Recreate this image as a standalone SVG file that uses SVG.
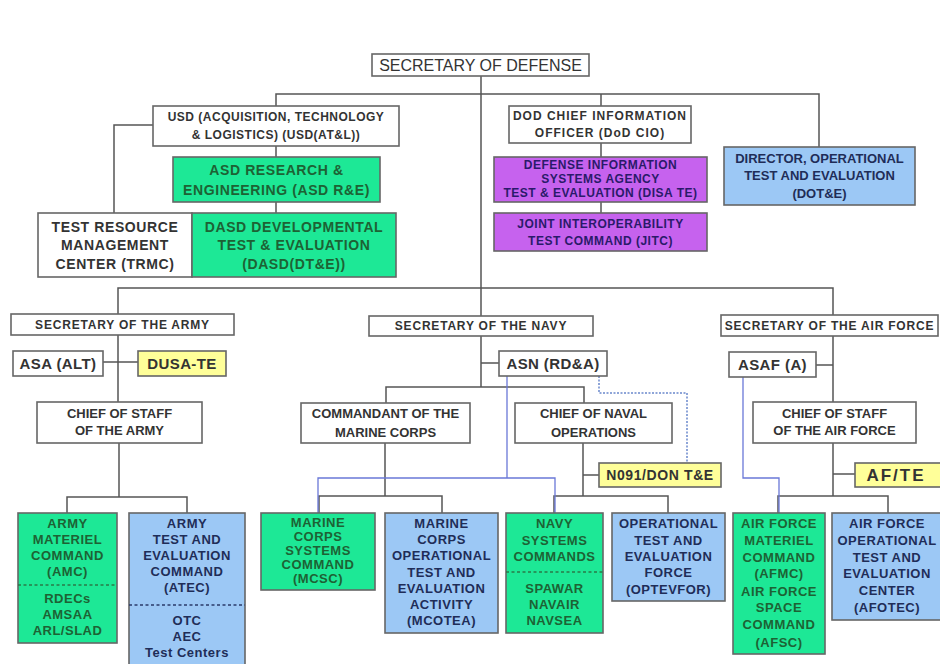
<svg xmlns="http://www.w3.org/2000/svg" width="940" height="664" viewBox="0 0 940 664">
<style>
text{font-family:"Liberation Sans",Arial,sans-serif;font-weight:bold;text-anchor:middle}
.bx{stroke:#666;stroke-width:1.6}
.w{fill:#fff}
.g{fill:#1de896}
.b{fill:#9cc8f5}
.p{fill:#c662ee}
.y{fill:#ffff99}
.tw{fill:#333}
.tg{fill:#1d6234}
.tb{fill:#1f2d58}
.tp{fill:#2a1a6a}
.f12{font-size:12px;letter-spacing:0.5px}
.f12w{font-size:12px;letter-spacing:1px}
.f13{font-size:13px}
.f14{font-size:14px;letter-spacing:0.6px}
.f15{font-size:15px;letter-spacing:0.4px}
.bt{font-size:13px;letter-spacing:0.5px}
.sec{font-size:12px;letter-spacing:0.8px}
.ln{fill:none;stroke:#555;stroke-width:1.5}
.bl{fill:none;stroke:#6a78d8;stroke-width:1.3}
.dt{fill:none;stroke:#6a88cc;stroke-width:1.5;stroke-dasharray:2 1.5}
.sep{stroke-width:1.3;stroke-dasharray:3 2.5}
</style>
<rect width="940" height="664" fill="#fff"/>
<g id="connectors">
<path class="ln" d="M481 76V316M481 336V387M276 106V94H819V147M601 94V106M601 143V157M601 202V213M153 125H114V213M276 146V157M276 202V213"/>
<path class="ln" d="M118 314V288H833V315M118 335V402M103 362H138M119 443V497M67 513V497H187V513"/>
<path class="ln" d="M481 363H499M386 403V387H584V403M385 443V496M319 513V496H442V513M583 443V496M583 475H599M554 513V496H668V513"/>
<path class="ln" d="M833 336V496M816 365H833M833 474H855M778 513V496H888V513"/>
<path class="bl" d="M507 376V478M318 513V478H555V513M743 377V478H779V513"/>
<path class="dt" d="M599 376V393H687V463"/>
</g>
<g id="secdef"><rect class="bx w" x="372" y="54" width="217" height="22"/><text class="tw" x="480.5" y="71" style="font-size:16px;font-weight:normal">SECRETARY OF DEFENSE</text></g>
<g id="usd"><rect class="bx w" x="153" y="106" width="246" height="40"/><text class="tw f12" x="276" y="121">USD (ACQUISITION, TECHNOLOGY</text><text class="tw f12" x="276" y="139">&amp; LOGISTICS)  (USD(AT&amp;L))</text></g>
<g id="asdre"><rect class="bx g" x="173" y="157" width="207" height="45"/><text class="tg f14" x="276.5" y="175">ASD RESEARCH &amp;</text><text class="tg f14" x="276.5" y="195">ENGINEERING (ASD R&amp;E)</text></g>
<g id="trmc"><rect class="bx w" x="38" y="213" width="154" height="64"/><text class="tw f14" x="115" y="232">TEST RESOURCE</text><text class="tw f14" x="115" y="250">MANAGEMENT</text><text class="tw f14" x="115" y="269">CENTER (TRMC)</text></g>
<g id="dasd"><rect class="bx g" x="192" y="213" width="204" height="64"/><text class="tg f14" x="294" y="232">DASD DEVELOPMENTAL</text><text class="tg f14" x="294" y="250">TEST &amp; EVALUATION</text><text class="tg f14" x="294" y="269">(DASD(DT&amp;E))</text></g>
<g id="dodcio"><rect class="bx w" x="509" y="106" width="182" height="37"/><text class="tw f12w" x="600" y="120">DOD CHIEF INFORMATION</text><text class="tw f12w" x="600" y="137">OFFICER (DoD CIO)</text></g>
<g id="disa"><rect class="bx p" x="494" y="157" width="213" height="45"/><text class="tp f12" x="600.5" y="169">DEFENSE INFORMATION</text><text class="tp f12" x="600.5" y="183">SYSTEMS AGENCY</text><text class="tp f12" x="600.5" y="197">TEST &amp; EVALUATION (DISA TE)</text></g>
<g id="jitc"><rect class="bx p" x="494" y="213" width="213" height="38"/><text class="tp f12" x="600.5" y="228">JOINT INTEROPERABILITY</text><text class="tp f12" x="600.5" y="245">TEST COMMAND (JITC)</text></g>
<g id="dote"><rect class="bx b" x="724" y="147" width="191" height="58"/><text class="tb f13" x="819.5" y="163">DIRECTOR, OPERATIONAL</text><text class="tb f13" x="819.5" y="180">TEST AND EVALUATION</text><text class="tb f13" x="819.5" y="198">(DOT&amp;E)</text></g>
<g id="secarmy"><rect class="bx w" x="11" y="314" width="223" height="21"/><text class="tw sec" x="122.5" y="329">SECRETARY OF THE ARMY</text></g>
<g id="asaalt"><rect class="bx w" x="13" y="351" width="90" height="25"/><text class="tw f15" x="58" y="369">ASA (ALT)</text></g>
<g id="dusate"><rect class="bx y" x="138" y="351" width="88" height="25"/><text class="tw f15" x="182" y="369">DUSA-TE</text></g>
<g id="csarmy"><rect class="bx w" x="37" y="402" width="165" height="41"/><text class="tw f13" x="119.5" y="418">CHIEF OF STAFF</text><text class="tw f13" x="119.5" y="435">OF THE ARMY</text></g>
<g id="secnavy"><rect class="bx w" x="369" y="316" width="224" height="20"/><text class="tw sec" x="481" y="330">SECRETARY OF THE NAVY</text></g>
<g id="asnrda"><rect class="bx w" x="499" y="351" width="108" height="25"/><text class="tw f15" x="553" y="369">ASN (RD&amp;A)</text></g>
<g id="cmc"><rect class="bx w" x="301" y="403" width="169" height="40"/><text class="tw f13" x="385.5" y="418">COMMANDANT  OF THE</text><text class="tw f13" x="385.5" y="437">MARINE CORPS</text></g>
<g id="cno"><rect class="bx w" x="515" y="403" width="157" height="40"/><text class="tw f13" x="593.5" y="418">CHIEF OF NAVAL</text><text class="tw f13" x="593.5" y="437">OPERATIONS</text></g>
<g id="n091"><rect class="bx y" x="599" y="463" width="122" height="24"/><text class="tw f14" x="660" y="480">N091/DON T&amp;E</text></g>
<g id="secaf"><rect class="bx w" x="721" y="315" width="217" height="21"/><text class="tw sec" x="829.5" y="330">SECRETARY OF THE AIR FORCE</text></g>
<g id="asafa"><rect class="bx w" x="729" y="352" width="87" height="25"/><text class="tw f15" x="772.5" y="370">ASAF (A)</text></g>
<g id="csaf"><rect class="bx w" x="753" y="402" width="163" height="41"/><text class="tw f13" x="834.5" y="418">CHIEF OF STAFF</text><text class="tw f13" x="834.5" y="435">OF THE AIR FORCE</text></g>
<g id="afte"><rect class="bx y" x="855" y="463" width="90" height="24"/><text class="tw" x="896" y="481" style="font-size:17px;letter-spacing:2px">AF/TE</text></g>
<g id="amc"><rect class="bx g" x="18" y="513" width="99" height="130"/><line class="sep" x1="18" y1="585" x2="117" y2="585" stroke="#2a7a48"/><text class="tg bt" x="67.5" y="528">ARMY</text><text class="tg bt" x="67.5" y="544">MATERIEL</text><text class="tg bt" x="67.5" y="560">COMMAND</text><text class="tg bt" x="67.5" y="576">(AMC)</text><text class="tg bt" x="67.5" y="603">RDECs</text><text class="tg bt" x="67.5" y="619">AMSAA</text><text class="tg bt" x="67.5" y="635">ARL/SLAD</text></g>
<g id="atec"><rect class="bx b" x="129" y="513" width="116" height="154"/><line class="sep" x1="129" y1="605" x2="245" y2="605" stroke="#2a3a6a"/><text class="tb bt" x="187" y="528">ARMY</text><text class="tb bt" x="187" y="544">TEST AND</text><text class="tb bt" x="187" y="560">EVALUATION</text><text class="tb bt" x="187" y="576">COMMAND</text><text class="tb bt" x="187" y="592">(ATEC)</text><text class="tb bt" x="187" y="625">OTC</text><text class="tb bt" x="187" y="641">AEC</text><text class="tb bt" x="187" y="657">Test Centers</text></g>
<g id="mcsc"><rect class="bx g" x="261" y="513" width="114" height="77"/><text class="tg bt" x="318" y="527">MARINE</text><text class="tg bt" x="318" y="541">CORPS</text><text class="tg bt" x="318" y="555">SYSTEMS</text><text class="tg bt" x="318" y="569">COMMAND</text><text class="tg bt" x="318" y="583">(MCSC)</text></g>
<g id="mcotea"><rect class="bx b" x="385" y="513" width="113" height="120"/><text class="tb bt" x="441.5" y="528">MARINE</text><text class="tb bt" x="441.5" y="544">CORPS</text><text class="tb bt" x="441.5" y="560">OPERATIONAL</text><text class="tb bt" x="441.5" y="577">TEST AND</text><text class="tb bt" x="441.5" y="593">EVALUATION</text><text class="tb bt" x="441.5" y="609">ACTIVITY</text><text class="tb bt" x="441.5" y="625">(MCOTEA)</text></g>
<g id="navsys"><rect class="bx g" x="506" y="513" width="97" height="120"/><line class="sep" x1="506" y1="572" x2="603" y2="572" stroke="#2a7a48"/><text class="tg bt" x="554.5" y="528">NAVY</text><text class="tg bt" x="554.5" y="545">SYSTEMS</text><text class="tg bt" x="554.5" y="561">COMMANDS</text><text class="tg bt" x="554.5" y="593">SPAWAR</text><text class="tg bt" x="554.5" y="609">NAVAIR</text><text class="tg bt" x="554.5" y="625">NAVSEA</text></g>
<g id="optevfor"><rect class="bx b" x="612" y="513" width="113" height="88"/><text class="tb bt" x="668.5" y="528">OPERATIONAL</text><text class="tb bt" x="668.5" y="545">TEST AND</text><text class="tb bt" x="668.5" y="561">EVALUATION</text><text class="tb bt" x="668.5" y="577">FORCE</text><text class="tb bt" x="668.5" y="594">(OPTEVFOR)</text></g>
<g id="afmc"><rect class="bx g" x="733" y="513" width="92" height="141"/><text class="tg bt" x="779" y="528">AIR FORCE</text><text class="tg bt" x="779" y="545">MATERIEL</text><text class="tg bt" x="779" y="562">COMMAND</text><text class="tg bt" x="779" y="578">(AFMC)</text><text class="tg bt" x="779" y="596">AIR FORCE</text><text class="tg bt" x="779" y="612">SPACE</text><text class="tg bt" x="779" y="629">COMMAND</text><text class="tg bt" x="779" y="647">(AFSC)</text></g>
<g id="afotec"><rect class="bx b" x="832" y="513" width="112" height="107"/><text class="tb bt" x="887" y="528">AIR FORCE</text><text class="tb bt" x="887" y="545">OPERATIONAL</text><text class="tb bt" x="887" y="562">TEST AND</text><text class="tb bt" x="887" y="578">EVALUATION</text><text class="tb bt" x="887" y="595">CENTER</text><text class="tb bt" x="887" y="612">(AFOTEC)</text></g>
</svg>
